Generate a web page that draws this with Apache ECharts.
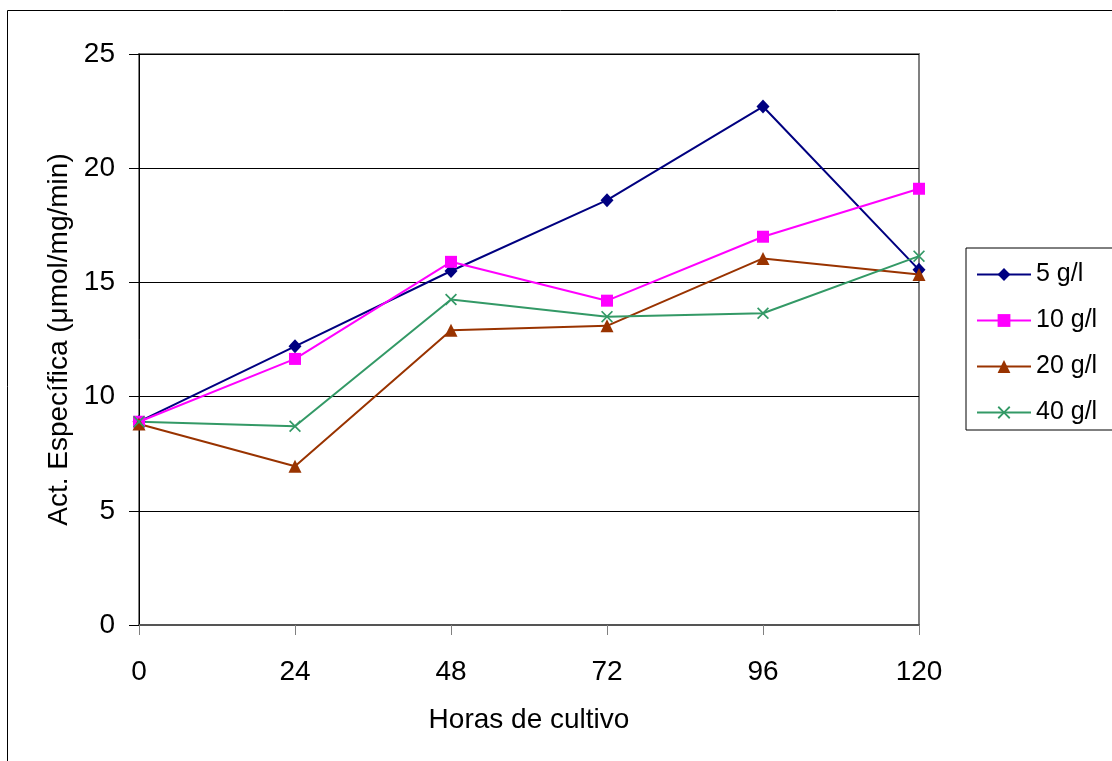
<!DOCTYPE html>
<html>
<head>
<meta charset="utf-8">
<script src="https://cdn.jsdelivr.net/npm/echarts@6/dist/echarts.min.js"></script>
<style>
  html, body { margin: 0; padding: 0; background: #fff; }
  #chart { width: 1112px; height: 761px; }
</style>
</head>
<body>
<div id="chart"></div>
<script>
// Horas de cultivo (x) and specific activity per glucose concentration
const horas = [0, 24, 48, 72, 96, 120];
const serie5 = [8.9, 12.2, 15.5, 18.6, 22.7, 15.55];
const serie10 = [8.9, 11.65, 15.9, 14.2, 17.0, 19.1];
const serie20 = [8.8, 6.95, 12.9, 13.1, 16.05, 15.35];
const serie40 = [8.9, 8.7, 14.25, 13.5, 13.65, 16.15];
const nombres = ['5 g/l', '10 g/l', '20 g/l', '40 g/l'];

const FONT = 'Liberation Sans, Arial, sans-serif';
// thin "x" cross drawn as a filled outline
const CROSS = 'path://M0,1 L1,0 L5,4 L9,0 L10,1 L6,5 L10,9 L9,10 L5,6 L1,10 L0,9 L4,5 Z';

function pares(vals) {
  return horas.map((h, i) => [h, vals[i]]);
}

function serie(name, vals, color, symbol, size) {
  return {
    name: name,
    type: 'line',
    data: pares(vals),
    symbol: symbol,
    symbolSize: size,
    showSymbol: true,
    lineStyle: { color: color, width: 2 },
    itemStyle: { color: color },
    emphasis: { disabled: true },
    animation: false
  };
}

const chart = echarts.init(document.getElementById('chart'));
chart.setOption({
  backgroundColor: '#ffffff',
  animation: false,
  graphic: [{
    type: 'rect',
    shape: { x: 7.5, y: 10.5, width: 2000, height: 2000 },
    style: { fill: 'none', stroke: '#000', lineWidth: 1 },
    silent: true,
    z: -10
  }],
  grid: {
    left: 139, top: 54, right: 193, bottom: 136,
    show: true, borderColor: '#808080', borderWidth: 2,
    backgroundColor: 'transparent'
  },
  legend: {
    orient: 'vertical',
    left: 966, top: 248,
    padding: [14, 200, 5, 10],
    itemGap: 21,
    itemWidth: 54, itemHeight: 16,
    borderColor: '#000', borderWidth: 1,
    textStyle: { fontFamily: FONT, fontSize: 25, color: '#000' },
    data: nombres
  },
  xAxis: {
    type: 'value',
    min: 0, max: 120, interval: 24,
    name: 'Horas de cultivo',
    nameLocation: 'middle',
    nameGap: 81,
    nameTextStyle: { fontFamily: FONT, fontSize: 28, color: '#000' },
    axisLine: { show: true, onZero: false, lineStyle: { color: '#555', width: 2 } },
    axisTick: { show: true, length: 10, lineStyle: { color: '#808080', width: 1 } },
    axisLabel: { fontFamily: FONT, fontSize: 28, color: '#000', margin: 33 },
    splitLine: { show: false }
  },
  yAxis: {
    type: 'value',
    min: 0, max: 25, interval: 5,
    name: 'Act. Específica (μmol/mg/min)',
    nameLocation: 'middle',
    nameGap: 64,
    nameTextStyle: { fontFamily: FONT, fontSize: 28, color: '#000' },
    axisLine: { show: true, lineStyle: { color: '#000', width: 1 } },
    axisTick: { show: true, length: 10, lineStyle: { color: '#000', width: 1 } },
    axisLabel: { fontFamily: FONT, fontSize: 28, color: '#000', margin: 24 },
    splitLine: { show: true, lineStyle: { color: '#000', width: 1 } }
  },
  series: [
    serie(nombres[0], serie5, '#000080', 'diamond', [13, 14]),
    serie(nombres[1], serie10, '#ff00ff', 'rect', 12),
    serie(nombres[2], serie20, '#993300', 'triangle', 13),
    serie(nombres[3], serie40, '#339966', CROSS, 12)
  ]
});
</script>
</body>
</html>
